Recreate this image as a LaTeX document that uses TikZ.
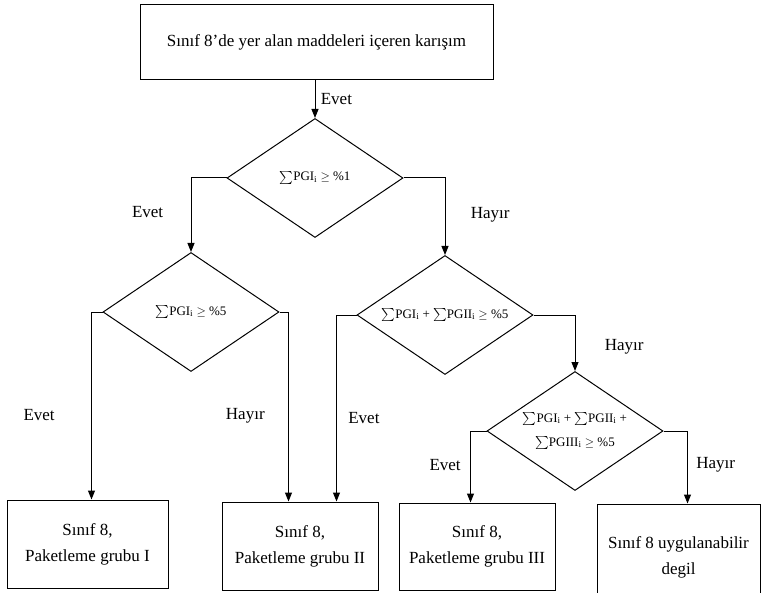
\documentclass[tikz,border=0pt]{standalone}
\usepackage{fontspec}
\setmainfont{Liberation Serif}
\usepackage{amsmath,amssymb}
\usetikzlibrary{positioning,arrows.meta,shapes.geometric,calc}
\tikzset{
  box/.style={rectangle,draw=black,line width=1pt,align=center,
    inner sep=4pt,font=\fontsize{17}{26}\selectfont},
  dec/.style={diamond,draw=black,line width=1pt,align=center,inner sep=0pt,
    minimum width=176pt,minimum height=119pt,aspect=1.48,
    font=\fontsize{13}{21}\selectfont},
  ar/.style={-{Triangle[length=9pt,width=7pt]},line width=1pt,draw=black},
  lbl/.style={font=\fontsize{17}{20}\selectfont},
}
\newcommand{\pgsum}[1]{\(\sum\)PG#1\(_{\mathrm{i}}\)}

\begin{document}
\begin{tikzpicture}[x=1pt,y=-1pt]
  \useasboundingbox (0,0) rectangle (762,593);
  \clip (0,0) rectangle (762,593);
  % start and decisions
  \node[box,minimum width=353pt,minimum height=75pt] (mix) at (316.5,42.5) {Sınıf 8'de yer alan maddeleri içeren karışım};
  \node[dec] (d1) at (315,178) {\pgsum{I} \(\geq\) \%1};
  \node[dec] (d2) at (191,312) {\pgsum{I} \(\geq\) \%5};
  \node[dec] (d3) at (445,315) {\pgsum{I} + \pgsum{II} \(\geq\) \%5};
  \node[dec] (d4) at (575,431) {\pgsum{I} + \pgsum{II} +\\[3pt] \pgsum{III} \(\geq\) \%5};
  % results
  \node[box,minimum width=161pt,minimum height=88pt] (g1) at (87.5,544) {Sınıf 8,\\ Paketleme grubu I};
  \node[box,minimum width=156pt,minimum height=88pt] (g2) at (300,546) {Sınıf 8,\\ Paketleme grubu II};
  \node[box,minimum width=156pt,minimum height=87pt] (g3) at (477,546.5) {Sınıf 8,\\ Paketleme grubu III};
  \node[box,minimum width=163pt,minimum height=106pt] (g4) at (678.5,557) {Sınıf 8 uygulanabilir\\ degil};
  % connectors
  \draw[ar] (mix.south -| d1.north) -- (d1.north) node[midway,right=2pt,lbl] {Evet};
  \draw[ar] (d1.west) -| (d2.north) node[pos=0.73,left=24pt,lbl] {Evet};
  \draw[ar] (d1.east) -| (d3.north) node[pos=0.74,right=22pt,lbl] {Hayır};
  \draw[ar] (d2.west) -- ++(-11,0) coordinate (c) -- (c |- g1.north) node[pos=0.55,left=33pt,lbl] {Evet};
  \draw[ar] (d2.east) -- ++(9,0) coordinate (c) -- (c |- g2.north) node[pos=0.55,left=20pt,lbl] {Hayır};
  \draw[ar] (d3.west) -- ++(-20,0) coordinate (c) -- (c |- g2.north) node[pos=0.55,right=8pt,lbl] {Evet};
  \draw[ar] (d3.east) -| (d4.north) node[pos=0.78,right=26pt,lbl] {Hayır};
  \draw[ar] (d4.west) -- ++(-16,0) coordinate (c) -- (c |- g3.north) node[pos=0.47,left=6pt,lbl] {Evet};
  \draw[ar] (d4.east) -- ++(24,0) coordinate (c) -- (c |- g4.north) node[pos=0.47,right=5pt,lbl] {Hayır};
\end{tikzpicture}
\end{document}
